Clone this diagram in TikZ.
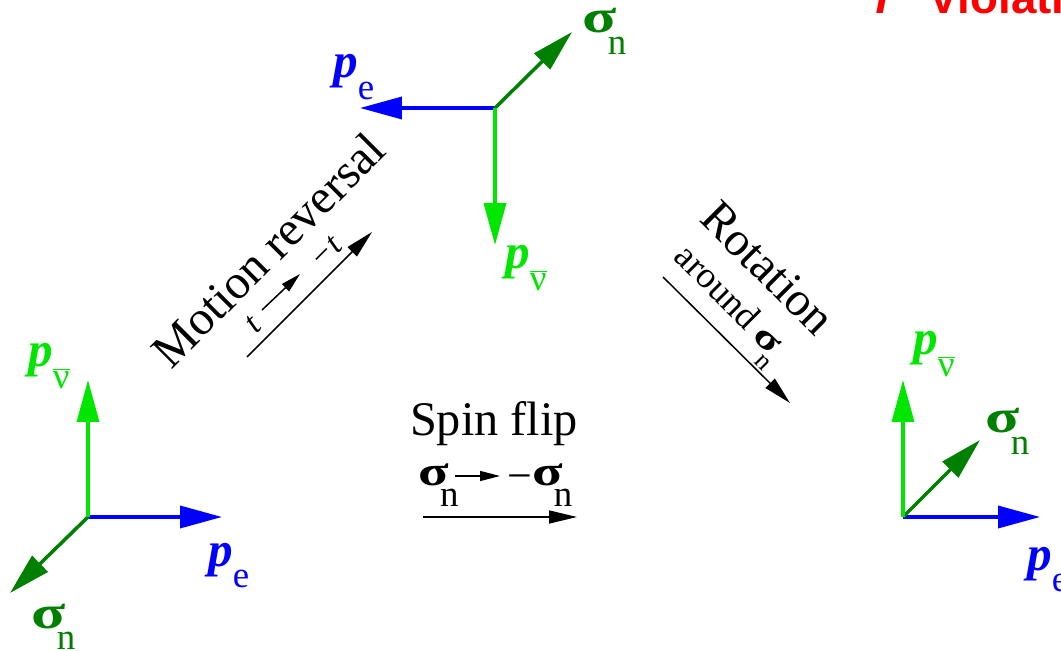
\documentclass[tikz,border=0pt]{standalone}
\usepackage{fontspec}
\setmainfont{Liberation Serif}
\newfontfamily\headfont{Liberation Sans}
\usetikzlibrary{arrows.meta}
\definecolor{vecblue}{RGB}{0,0,255}
\definecolor{veclime}{RGB}{0,230,0}
\definecolor{vecdark}{RGB}{0,128,0}
\newcommand{\lowsub}[1]{\raisebox{-12.5pt}{\fontsize{21}{21}\selectfont #1}}
\newcommand{\momp}{\textbf{\textit{p}}}
\newcommand{\fatsigma}{\scalebox{1.28}[0.95]{\textbf{σ}}}
\newcommand{\pelec}{\momp\lowsub{e}}
\newcommand{\pnubar}{\momp\lowsub{$\overline{\mbox{ν}}$}}
\newcommand{\spinn}{\fatsigma\kern-5pt\lowsub{n}}

\begin{document}
\begin{tikzpicture}[x=0.02cm, y=-0.02cm,
  vec/.style={line width=2pt, -{Triangle[length=0.84cm, width=0.44cm]}},
  arr/.style={line width=0.85pt, -{Triangle[length=0.56cm, width=0.26cm]}},
  sarr/.style={line width=0.85pt, -{Triangle[length=0.4cm, width=0.2cm]}},
  lbl/.style={inner sep=0pt, anchor=base west, font=\fontsize{28}{30}\selectfont},
  big/.style={inner sep=0pt, font=\fontsize{27.5}{30}\selectfont}]
  \useasboundingbox (0,0) rectangle (1061,651);

  % heading, cut by the top edge
  \node[inner sep=0pt, anchor=base west, text=red, font=\headfont\bfseries\fontsize{26}{28}\selectfont] (title) at (868,14) {\textit{T}\hspace{0.63em}Violation};

  % top: start state
  \coordinate (o1) at (495,108);
  \coordinate (pe1) at (360,108);
  \coordinate (sn1) at (572,32);
  \coordinate (pn1) at (495,245);
  \draw[vec, vecblue] (o1) -- (pe1);
  \draw[vec, vecdark] (o1) -- (sn1);
  \draw[vec, veclime] (o1) -- (pn1);
  \node[lbl, text=vecblue] (pe1lbl) at (333,78) {\pelec};
  \node[lbl, text=vecdark] (sn1lbl) at (582,33) {\spinn};
  \node[lbl, text=veclime] (pn1lbl) at (505,269) {\pnubar};

  % bottom left: after motion reversal
  \coordinate (o2) at (88,517);
  \coordinate (pe2) at (222,517);
  \coordinate (sn2) at (10,593);
  \coordinate (pn2) at (88,380);
  \draw[vec, vecblue] (o2) -- (pe2);
  \draw[vec, vecdark] (o2) -- (sn2);
  \draw[vec, veclime] (o2) -- (pn2);
  \node[lbl, text=veclime] (pn2lbl) at (28,367) {\pnubar};
  \node[lbl, text=vecblue] (pe2lbl) at (208,566) {\pelec};
  \node[lbl, text=vecdark] (sn2lbl) at (31,628) {\spinn};

  % bottom right: after rotation
  \coordinate (o3) at (903,517);
  \coordinate (pe3) at (1040,517);
  \coordinate (sn3) at (980,440);
  \coordinate (pn3) at (903,380);
  \draw[vec, vecblue] (o3) -- (pe3);
  \draw[vec, vecdark] (o3) -- (sn3);
  \draw[vec, veclime] (o3) -- (pn3);
  \node[lbl, text=veclime] (pn3lbl) at (913,355) {\pnubar};
  \node[lbl, text=vecdark] (sn3lbl) at (985,433) {\spinn};
  \node[lbl, text=vecblue] (pe3lbl) at (1027,570) {\pelec};

  % motion reversal
  \node[big, rotate=45] (motion) at (268,250) {Motion reversal};
  \node[inner sep=0pt, rotate=45, font=\fontsize{19}{21}\selectfont\itshape] (tfwd) at (253,325) {t};
  \node[inner sep=0pt, rotate=45, font=\fontsize{19}{21}\selectfont\itshape] (tbwd) at (326,253) {−t};
  \coordinate (ta) at (262,310);
  \coordinate (tb) at (300,274);
  \draw[sarr] (ta) -- (tb);
  \coordinate (mra) at (247,357);
  \coordinate (mrb) at (372,232);
  \draw[arr] (mra) -- (mrb);

  % rotation
  \node[big, rotate=-45] (rotation) at (768,268) {Rotation};
  \node[inner sep=0pt, rotate=-45, font=\fontsize{21}{23}\selectfont] (around) at (727,306) {around \scalebox{1.28}[0.95]{\textbf{σ}}\kern-4pt\raisebox{-9pt}{\fontsize{15}{15}\selectfont n}};
  \coordinate (rta) at (663,277);
  \coordinate (rtb) at (790,403);
  \draw[arr] (rta) -- (rtb);

  % spin flip
  \node[big, anchor=base] (spinflip) at (494,436) {Spin flip};
  \node[lbl, font=\fontsize{25}{27}\selectfont] (flipfrom) at (418,485) {\spinn};
  \node[lbl, font=\fontsize{25}{27}\selectfont] (flipto) at (507,485) {\raisebox{-3pt}{−}\spinn};
  \coordinate (sfa) at (455,476);
  \coordinate (sfb) at (500,476);
  \draw[sarr] (sfa) -- (sfb);
  \coordinate (spa) at (423,517);
  \coordinate (spb) at (577,517);
  \draw[arr] (spa) -- (spb);
\end{tikzpicture}
\end{document}
